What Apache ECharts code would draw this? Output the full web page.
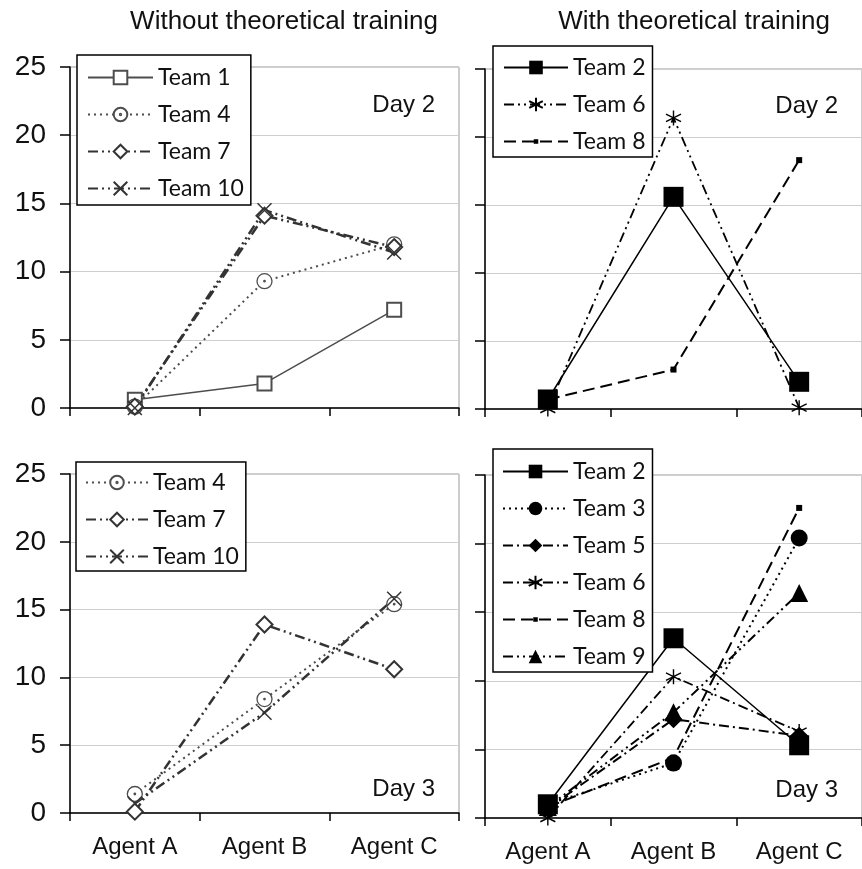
<!DOCTYPE html>
<html>
<head>
<meta charset="utf-8">
<script src="https://cdn.jsdelivr.net/npm/echarts@6/dist/echarts.min.js"></script>
<style>
  html, body { margin: 0; padding: 0; background: #fff; }
  #chart { width: 862px; height: 869px; }
</style>
</head>
<body>
<div id="chart"></div>
<script>
// Categories shared by all four panels
const agents = ['Agent A', 'Agent B', 'Agent C'];
const yTicks = { min: 0, max: 25, step: 5 };

// Day 2, without theoretical training
const team1Day2 = [0.6, 1.8, 7.2];
const team4Day2 = [0.1, 9.3, 12.0];
const team7Day2 = [0.1, 14.1, 11.8];
const team10Day2 = [0.0, 14.5, 11.4];

// Day 2, with theoretical training
const team2Day2 = [0.7, 15.6, 2.0];
const team6Day2 = [0.0, 21.4, 0.1];
const team8Day2 = [0.7, 2.9, 18.3];

// Day 3, without theoretical training
const team4Day3 = [1.4, 8.4, 15.4];
const team7Day3 = [0.1, 13.9, 10.6];
const team10Day3 = [0.7, 7.4, 15.8];

// Day 3, with theoretical training
const team2Day3 = [1.0, 13.1, 5.3];
const team3Day3 = [1.0, 4.0, 20.4];
const team5Day3 = [0.7, 7.2, 6.0];
const team6Day3 = [0.0, 10.3, 6.3];
const team8Day3 = [0.8, 4.4, 22.6];
const team9Day3 = [0.8, 7.7, 16.4];

const panelTitles = ['Without theoretical training', 'With theoretical training'];
const dayLabels = ['Day 2', 'Day 2', 'Day 3', 'Day 3'];

// ---- styles ----
const DOT = [2, 4];
const DASH = [12, 6];
const DASH_DOT = [10, 4, 2, 4];
const DASH_DOT_DOT = [10, 4, 2, 4, 2, 4];

const SYM_X = 'path://M0,0L10,10M0,10L10,0';
const SYM_STAR = 'path://M5,0L5,10M0.67,2.5L9.33,7.5M0.67,7.5L9.33,2.5';
const SYM_SMALL_SQ = 'path://M0,0M12,12M4,4L8,4L8,8L4,8Z';
const SYM_DOT_CIRCLE = 'path://M0,5A5,5,0,1,1,10,5A5,5,0,1,1,0,5ZM4.5,5A0.5,0.5,0,1,1,5.5,5A0.5,0.5,0,1,1,4.5,5Z';

const GRAY = '#4d4d4d';
const DARK = '#333';
const BLACK = '#000';

const styles = {
  t1:  { symbol: 'emptyRect', size: 14, color: GRAY, fill: GRAY, width: 1.5, dash: 'solid', bw: 1.5 },
  t4:  { symbol: SYM_DOT_CIRCLE, size: 15, color: GRAY, fill: '#fff', width: 2, dash: DOT, bw: 1.3 },
  t7:  { symbol: 'emptyDiamond', size: 16, color: DARK, fill: DARK, width: 2.5, dash: DASH_DOT_DOT, bw: 1.5 },
  t10: { symbol: SYM_X, size: 14, color: DARK, fill: 'none', width: 2.5, dash: DASH_DOT_DOT, bw: 1.5 },
  t2:  { symbol: 'rect', size: 20, color: BLACK, fill: BLACK, width: 1.5, dash: 'solid', bw: 0 },
  t3:  { symbol: 'circle', size: 17, color: BLACK, fill: BLACK, width: 2, dash: DOT, bw: 0 },
  t5:  { symbol: 'diamond', size: 18, color: BLACK, fill: BLACK, width: 2, dash: DASH_DOT, bw: 0 },
  t6:  { symbol: SYM_STAR, size: 15, color: BLACK, fill: 'none', width: 1.8, dash: DASH_DOT_DOT, bw: 1.4 },
  t8:  { symbol: SYM_SMALL_SQ, size: 18, color: BLACK, fill: BLACK, width: 2, dash: DASH, bw: 0 },
  t9:  { symbol: 'triangle', size: 18, color: BLACK, fill: BLACK, width: 2, dash: DASH_DOT_DOT, bw: 0 }
};

function lineSeries(name, panel, values, s) {
  return {
    type: 'line',
    name: name + '@' + panel,
    xAxisIndex: panel,
    yAxisIndex: panel,
    data: values,
    symbol: s.symbol,
    symbolSize: s.size,
    showSymbol: true,
    lineStyle: { color: s.color, width: s.width, type: s.dash, cap: 'butt' },
    itemStyle: { color: s.fill, borderColor: s.color, borderWidth: s.bw },
    emphasis: { disabled: true },
    animation: false
  };
}

const series = [
  lineSeries('Team 1', 0, team1Day2, styles.t1),
  lineSeries('Team 4', 0, team4Day2, styles.t4),
  lineSeries('Team 7', 0, team7Day2, styles.t7),
  lineSeries('Team 10', 0, team10Day2, styles.t10),

  lineSeries('Team 2', 1, team2Day2, styles.t2),
  lineSeries('Team 6', 1, team6Day2, styles.t6),
  lineSeries('Team 8', 1, team8Day2, styles.t8),

  lineSeries('Team 4', 2, team4Day3, styles.t4),
  lineSeries('Team 7', 2, team7Day3, styles.t7),
  lineSeries('Team 10', 2, team10Day3, styles.t10),

  lineSeries('Team 2', 3, team2Day3, styles.t2),
  lineSeries('Team 3', 3, team3Day3, styles.t3),
  lineSeries('Team 5', 3, team5Day3, styles.t5),
  lineSeries('Team 6', 3, team6Day3, Object.assign({}, styles.t6, { dash: DASH_DOT })),
  lineSeries('Team 8', 3, team8Day3, styles.t8),
  lineSeries('Team 9', 3, team9Day3, styles.t9)
];

const grids = [
  { left: 70, top: 67, width: 389, height: 341 },
  { left: 485, top: 69, width: 389, height: 340 },
  { left: 70, top: 474, width: 389, height: 339 },
  { left: 485, top: 475, width: 389, height: 343 }
].map(g => Object.assign(g, { show: true, borderColor: '#9a9a9a', borderWidth: 1, backgroundColor: 'transparent' }));

const xAxes = grids.map((g, i) => ({
  type: 'category',
  gridIndex: i,
  data: agents,
  boundaryGap: true,
  axisLine: { lineStyle: { color: '#000', width: 1.5 } },
  axisTick: { show: true, length: 8, lineStyle: { color: '#000', width: 1.5 } },
  axisLabel: {
    show: i >= 2, margin: 22, fontSize: 24, color: '#111',
    fontFamily: 'Liberation Sans, Arial, sans-serif'
  },
  splitLine: { show: false }
}));

const yAxes = grids.map((g, i) => ({
  type: 'value',
  gridIndex: i,
  min: yTicks.min,
  max: yTicks.max,
  interval: yTicks.step,
  axisLine: { show: true, lineStyle: { color: '#000', width: 1.5 } },
  axisTick: { show: true, length: 10, lineStyle: { color: '#000', width: 1.5 } },
  axisLabel: {
    show: i % 2 === 0, margin: 24, fontSize: 28, color: '#111',
    fontFamily: 'Liberation Sans, Arial, sans-serif'
  },
  splitLine: { show: true, lineStyle: { color: '#cfcfcf', width: 1 } }
}));

function legendBox(names, panel, left, top, padding, itemWidth) {
  return {
    orient: 'vertical',
    left: left,
    top: top,
    padding: padding,
    itemGap: 14,
    itemWidth: itemWidth,
    itemHeight: 17,
    backgroundColor: '#fff',
    borderColor: '#000',
    borderWidth: 1.5,
    borderRadius: 0,
    selectedMode: false,
    data: names.map(n => n + '@' + panel),
    formatter: n => n.split('@')[0],
    textStyle: { fontFamily: 'Lato, Carlito, sans-serif', fontSize: 23, color: '#111' },
    z: 10
  };
}

const legends = [
  legendBox(['Team 1', 'Team 4', 'Team 7', 'Team 10'], 0, 77, 55, [11, 7, 5, 10], 65),
  legendBox(['Team 2', 'Team 6', 'Team 8'], 1, 493, 46, [10, 7, 4, 10], 64),
  legendBox(['Team 4', 'Team 7', 'Team 10'], 2, 76, 462, [9, 7, 3, 9], 62),
  legendBox(['Team 2', 'Team 3', 'Team 5', 'Team 6', 'Team 8', 'Team 9'], 3, 493, 449, [11, 7, 4, 9], 65)
];

const textFont = 'Liberation Sans, Arial, sans-serif';
const graphics = [
  { type: 'text', x: 284, y: 22, style: { text: panelTitles[0], font: '26px ' + textFont, fill: '#111', textAlign: 'center', textVerticalAlign: 'middle' } },
  { type: 'text', x: 694, y: 22, style: { text: panelTitles[1], font: '26px ' + textFont, fill: '#111', textAlign: 'center', textVerticalAlign: 'middle' } },
  { type: 'text', x: 435, y: 105, style: { text: dayLabels[0], font: '24px ' + textFont, fill: '#111', textAlign: 'right', textVerticalAlign: 'middle' } },
  { type: 'text', x: 838, y: 106, style: { text: dayLabels[1], font: '24px ' + textFont, fill: '#111', textAlign: 'right', textVerticalAlign: 'middle' } },
  { type: 'text', x: 435, y: 789, style: { text: dayLabels[2], font: '24px ' + textFont, fill: '#111', textAlign: 'right', textVerticalAlign: 'middle' } },
  { type: 'text', x: 838, y: 790, style: { text: dayLabels[3], font: '24px ' + textFont, fill: '#111', textAlign: 'right', textVerticalAlign: 'middle' } }
];

const chart = echarts.init(document.getElementById('chart'), null, { renderer: 'canvas' });
chart.setOption({
  backgroundColor: '#fff',
  animation: false,
  grid: grids,
  xAxis: xAxes,
  yAxis: yAxes,
  legend: legends,
  series: series,
  graphic: graphics
});
</script>
</body>
</html>
